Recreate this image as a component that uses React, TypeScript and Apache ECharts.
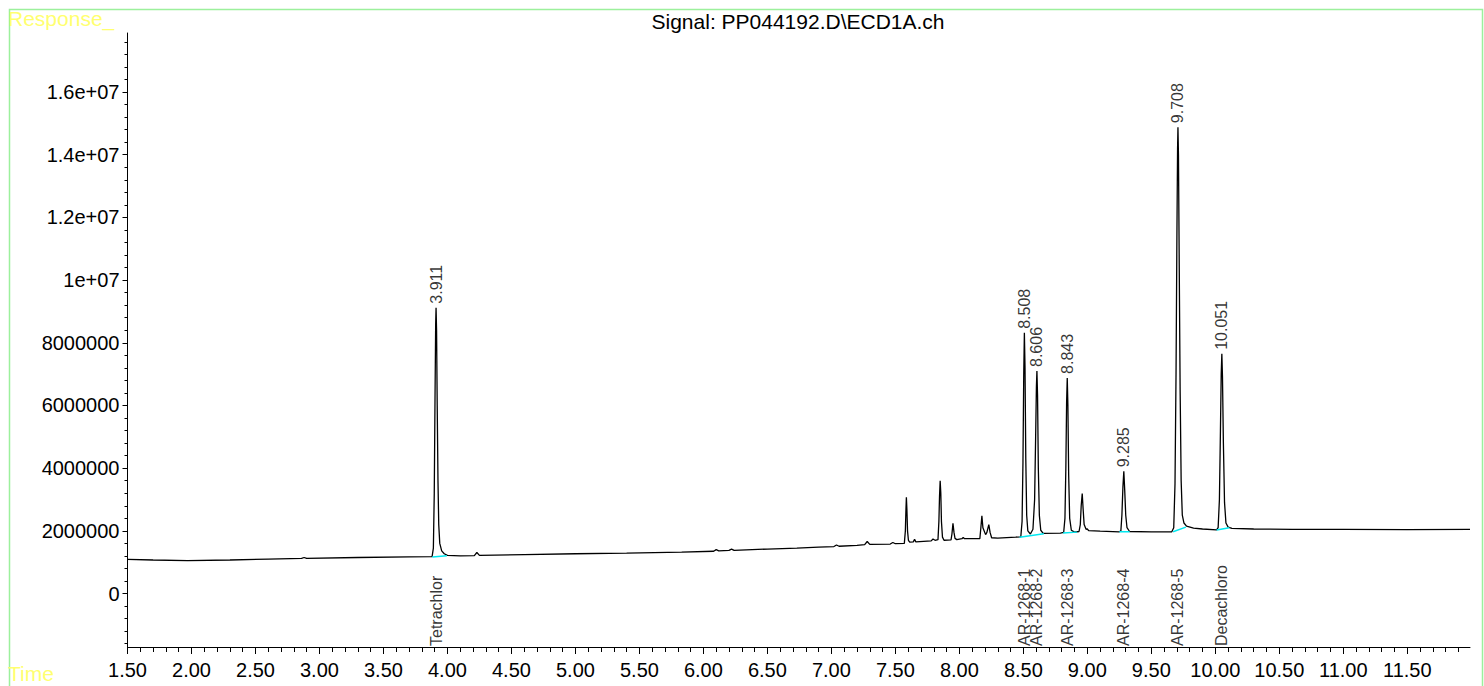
import React, { useEffect, useRef } from "react";
import * as echarts from "echarts";

// ---- Data ----
const X_MIN = 1.5;
const X_MAX = 11.99;
const Y_MIN = -1.705e6;
const Y_MAX = 1.7884e7;

const X_TICK_VALUES = [1.5, 2, 2.5, 3, 3.5, 4, 4.5, 5, 5.5, 6, 6.5, 7, 7.5, 8, 8.5, 9, 9.5, 10, 10.5, 11, 11.5];
const X_TICK_LABELS = ["1.50", "2.00", "2.50", "3.00", "3.50", "4.00", "4.50", "5.00", "5.50", "6.00", "6.50", "7.00", "7.50", "8.00", "8.50", "9.00", "9.50", "10.00", "10.50", "11.00", "11.50"];
const Y_TICK_VALUES = [0, 2e6, 4e6, 6e6, 8e6, 1e7, 1.2e7, 1.4e7, 1.6e7];
const Y_TICK_LABELS = ["0", "2000000", "4000000", "6000000", "8000000", "1e+07", "1.2e+07", "1.4e+07", "1.6e+07"];

// detector trace: [time (min), response]
const TRACE: [number, number][] = [
  [1.5, 1.09e6], [1.7, 1.07e6], [1.97, 1.05e6], [2.3, 1.07e6], [2.6, 1.1e6],
  [2.86, 1.12e6], [2.88, 1.15e6], [2.9, 1.12e6], [3.3, 1.15e6], [3.7, 1.17e6],
  [3.88, 1.18e6], [3.89, 1.45e6], [3.897, 3.2e6], [3.903, 6.3e6], [3.908, 8.6e6],
  [3.911, 9.12e6], [3.915, 8.4e6], [3.92, 6.0e6], [3.926, 3.6e6], [3.932, 2.2e6],
  [3.94, 1.6e6], [3.955, 1.36e6], [3.975, 1.27e6], [4.0, 1.22e6], [4.1, 1.2e6],
  [4.21, 1.21e6], [4.23, 1.31e6], [4.25, 1.22e6], [4.6, 1.24e6], [5.0, 1.27e6],
  [5.4, 1.29e6], [5.83, 1.32e6], [6.08, 1.35e6], [6.1, 1.4e6], [6.12, 1.36e6],
  [6.2, 1.38e6], [6.22, 1.42e6], [6.24, 1.38e6], [6.5, 1.42e6], [6.73, 1.45e6],
  [6.9, 1.48e6], [7.02, 1.5e6], [7.04, 1.55e6], [7.06, 1.51e6], [7.2, 1.54e6],
  [7.26, 1.56e6], [7.28, 1.66e6], [7.3, 1.57e6], [7.46, 1.58e6], [7.48, 1.63e6],
  [7.5, 1.59e6], [7.57, 1.6e6], [7.578, 2.0e6], [7.582, 2.6e6], [7.586, 3.07e6],
  [7.59, 2.7e6], [7.595, 2.0e6], [7.602, 1.7e6], [7.612, 1.64e6], [7.64, 1.65e6],
  [7.65, 1.73e6], [7.66, 1.65e6], [7.78, 1.68e6], [7.794, 1.74e6], [7.81, 1.7e6],
  [7.833, 1.72e6], [7.84, 2.3e6], [7.845, 3.1e6], [7.85, 3.6e6], [7.855, 3.2e6],
  [7.86, 2.3e6], [7.868, 1.8e6], [7.88, 1.7e6], [7.935, 1.71e6], [7.942, 1.9e6],
  [7.95, 2.24e6], [7.958, 1.95e6], [7.966, 1.76e6], [7.98, 1.72e6], [8.02, 1.75e6],
  [8.03, 1.79e6], [8.04, 1.75e6], [8.16, 1.75e6], [8.168, 2.1e6], [8.176, 2.48e6],
  [8.184, 2.1e6], [8.205, 1.88e6], [8.215, 1.95e6], [8.23, 2.2e6], [8.24, 1.95e6],
  [8.252, 1.78e6], [8.3, 1.77e6], [8.44, 1.8e6], [8.48, 1.81e6], [8.49, 2.3e6],
  [8.497, 4.2e6], [8.503, 7.0e6], [8.508, 8.32e6], [8.513, 7.2e6], [8.519, 4.3e6],
  [8.526, 2.5e6], [8.535, 2.0e6], [8.555, 1.9e6], [8.575, 2.05e6], [8.588, 3.0e6],
  [8.596, 5.0e6], [8.602, 6.6e6], [8.606, 7.1e6], [8.611, 6.3e6], [8.617, 4.0e6],
  [8.625, 2.5e6], [8.636, 2.02e6], [8.655, 1.92e6], [8.79, 1.93e6], [8.815, 1.95e6],
  [8.825, 2.4e6], [8.832, 4.0e6], [8.838, 6.1e6], [8.843, 6.88e6], [8.848, 6.0e6],
  [8.854, 3.8e6], [8.862, 2.4e6], [8.875, 2.02e6], [8.9, 1.96e6], [8.935, 1.98e6],
  [8.945, 2.2e6], [8.952, 2.8e6], [8.96, 3.19e6], [8.967, 2.7e6], [8.975, 2.2e6],
  [8.99, 2.05e6], [9.0, 2.06e6], [9.01, 2.01e6], [9.1, 1.99e6], [9.25, 1.97e6],
  [9.262, 2.0e6], [9.27, 2.5e6], [9.278, 3.4e6], [9.285, 3.9e6], [9.292, 3.3e6],
  [9.3, 2.5e6], [9.31, 2.1e6], [9.33, 1.98e6], [9.5, 1.97e6], [9.66, 1.97e6],
  [9.675, 2.1e6], [9.685, 3.5e6], [9.693, 7.0e6], [9.7, 11.5e6], [9.705, 14.2e6],
  [9.708, 14.88e6], [9.712, 14.0e6], [9.718, 10.5e6], [9.725, 6.5e6], [9.733, 3.6e6],
  [9.742, 2.5e6], [9.755, 2.25e6], [9.775, 2.15e6], [9.83, 2.09e6], [9.9, 2.06e6],
  [10.01, 2.03e6], [10.022, 2.1e6], [10.032, 3.0e6], [10.04, 5.2e6], [10.046, 7.0e6],
  [10.051, 7.65e6], [10.056, 6.9e6], [10.063, 4.8e6], [10.072, 2.9e6], [10.083, 2.25e6],
  [10.1, 2.12e6], [10.13, 2.08e6], [10.3, 2.06e6], [10.6, 2.05e6], [11.0, 2.05e6],
  [11.5, 2.04e6], [11.99, 2.05e6],
];

// integrated peaks
const PEAK_TIMES = [3.911, 8.508, 8.606, 8.843, 9.285, 9.708, 10.051];
const PEAK_HEIGHTS = [9.12e6, 8.32e6, 7.1e6, 6.88e6, 3.9e6, 14.88e6, 7.65e6];
const COMPOUNDS = ["Tetrachlor", "AR-1268-1", "AR-1268-2", "AR-1268-3", "AR-1268-4", "AR-1268-5", "Decachloro"];

// drawn integration baselines: [[t0, v0], [t1, v1]]
const BASELINES: [number, number][][] = [
  [[3.882, 1.17e6], [3.995, 1.21e6]],
  [[8.47, 1.8e6], [8.66, 1.91e6]],
  [[8.81, 1.93e6], [8.92, 1.96e6]],
  [[9.25, 1.97e6], [9.33, 1.97e6]],
  [[9.67, 1.97e6], [9.77, 2.12e6]],
  [[10.01, 2.03e6], [10.11, 2.1e6]],
];

const FONT = "'Liberation Sans', Arial, sans-serif";

function minorTicks(from: number, to: number, step: number, majors: number[]): number[] {
  const out: number[] = [];
  const n = Math.round((to - from) / step);
  for (let i = 0; i <= n; i++) {
    const v = Math.round((from + i * step) * 1000) / 1000;
    if (!majors.some((m) => Math.abs(m - v) < step / 10)) out.push(v);
  }
  return out;
}

const X_MINOR = minorTicks(1.6, 11.9, 0.1, X_TICK_VALUES);
const Y_MINOR = minorTicks(-1.6e6, 1.76e7, 4e5, Y_TICK_VALUES);

export default function App() {
  const ref = useRef<HTMLDivElement>(null);
  useEffect(() => {
    const chart = echarts.init(ref.current!, null, { renderer: "svg" });
    const labelOf = (vals: number[], labels: string[], v: number) => {
      const i = vals.findIndex((x) => Math.abs(x - v) < 1e-6 * Math.max(1, Math.abs(x)));
      return i >= 0 ? labels[i] : "";
    };
    const axisBase = { type: "value", splitLine: { show: false } };
    chart.setOption({
      animation: false,
      backgroundColor: "#ffffff",
      grid: { left: 127.5, right: 14, top: 33, bottom: 39, containLabel: false, outerBoundsMode: "none" },
      graphic: [
        { type: "rect", left: 7, top: 7, shape: { x: 0, y: 0, width: 1473, height: 700 }, style: { fill: "none", stroke: "#9cf09c", lineWidth: 1.5 }, silent: true, z: -1 },
        { type: "text", x: 8, y: 8, style: { text: "Response_", fill: "#ffff70", fontSize: 21, fontFamily: FONT, textVerticalAlign: "top" } },
        { type: "text", x: 8, y: 663, style: { text: "Time", fill: "#ffff70", fontSize: 21, fontFamily: FONT, textVerticalAlign: "top" } },
        { type: "text", x: 798, y: 11, style: { text: "Signal: PP044192.D\\ECD1A.ch", fill: "#000", fontSize: 21, fontFamily: FONT, textAlign: "center", textVerticalAlign: "top" } },
      ],
      xAxis: [
        {
          ...axisBase, min: X_MIN, max: X_MAX, position: "bottom",
          axisLine: { show: true, onZero: false, lineStyle: { color: "#000", width: 1 } },
          axisTick: { show: true, customValues: X_TICK_VALUES, length: 7, lineStyle: { color: "#000" } },
          axisLabel: { show: true, customValues: X_TICK_VALUES, margin: 13, fontSize: 20, color: "#000", fontFamily: FONT, formatter: (v: number) => labelOf(X_TICK_VALUES, X_TICK_LABELS, v) },
        },
        {
          ...axisBase, min: X_MIN, max: X_MAX, position: "bottom",
          axisLine: { show: false, onZero: false },
          axisTick: { show: true, customValues: X_MINOR, length: 5, lineStyle: { color: "#000" } },
          axisLabel: { show: false },
        },
      ],
      yAxis: [
        {
          ...axisBase, min: Y_MIN, max: Y_MAX, position: "left",
          axisLine: { show: true, onZero: false, lineStyle: { color: "#000", width: 1 } },
          axisTick: { show: true, customValues: Y_TICK_VALUES, length: 5, lineStyle: { color: "#000" } },
          axisLabel: { show: true, customValues: Y_TICK_VALUES, margin: 8, fontSize: 20, color: "#000", fontFamily: FONT, formatter: (v: number) => labelOf(Y_TICK_VALUES, Y_TICK_LABELS, v) },
        },
        {
          ...axisBase, min: Y_MIN, max: Y_MAX, position: "left",
          axisLine: { show: false, onZero: false },
          axisTick: { show: true, customValues: Y_MINOR, length: 3, lineStyle: { color: "#000" } },
          axisLabel: { show: false },
        },
      ],
      series: [
        {
          type: "line", xAxisIndex: 0, yAxisIndex: 0, data: TRACE, symbol: "none", showSymbol: false,
          lineStyle: { color: "#000", width: 1.3 }, silent: true, z: 2,
        },
        ...BASELINES.map((seg) => ({
          type: "line", xAxisIndex: 0, yAxisIndex: 0, data: seg, symbol: "none", showSymbol: false,
          lineStyle: { color: "#00e8f0", width: 1.5 }, silent: true, z: 3,
        })),
        {
          type: "scatter", xAxisIndex: 0, yAxisIndex: 0, symbolSize: 0, clip: false, silent: true, z: 4,
          data: PEAK_TIMES.map((t, i) => [t, PEAK_HEIGHTS[i]]),
          label: {
            show: true, position: "top", distance: 4, rotate: 90, align: "left", verticalAlign: "middle",
            fontSize: 16, color: "#000", fontFamily: FONT,
            formatter: (p: any) => PEAK_TIMES[p.dataIndex].toFixed(3),
          },
        },
        {
          type: "scatter", xAxisIndex: 0, yAxisIndex: 0, symbolSize: 0, clip: false, silent: true, z: 4,
          data: PEAK_TIMES.map((t) => [t, Y_MIN]),
          label: {
            show: true, position: "top", distance: 1, rotate: 90, align: "left", verticalAlign: "middle",
            fontSize: 16, color: "#000", fontFamily: FONT,
            formatter: (p: any) => COMPOUNDS[p.dataIndex],
          },
        },
      ],
    });
    return () => chart.dispose();
  }, []);
  return <div ref={ref} style={{ position: "fixed", left: 0, top: 0, width: 1484, height: 686 }} />;
}
